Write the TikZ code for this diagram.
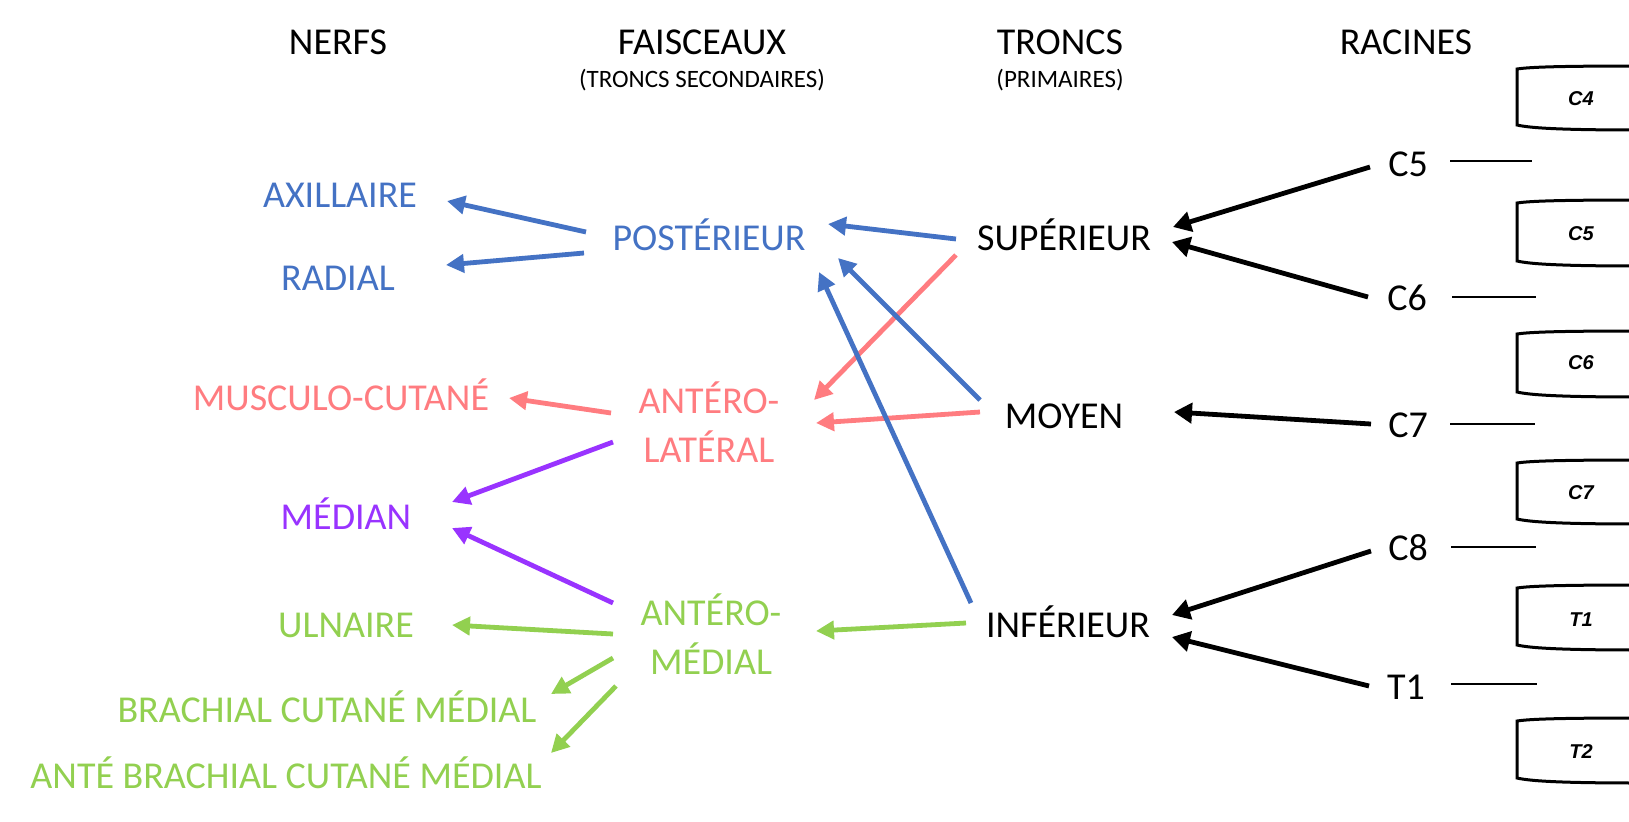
\documentclass[tikz,border=0pt]{standalone}
\usepackage{fontspec}
\setmainfont{Carlito}
\newfontfamily\vertfont{Liberation Sans}
\usetikzlibrary{arrows.meta,calc}
\definecolor{cblue}{RGB}{68,114,196}
\definecolor{cpink}{RGB}{255,124,128}
\definecolor{cpurple}{RGB}{153,51,255}
\definecolor{cgreen}{RGB}{146,208,80}
\tikzset{
 lbl/.style={font=\fontsize{19}{24.5}\selectfont, align=center, inner sep=0pt, text height=12.2pt, text depth=0pt},
 lbltwo/.style={font=\fontsize{19}{24.5}\selectfont, align=center, inner sep=0pt},
 sublbl/.style={font=\fontsize{12.5}{15}\selectfont, inner sep=0pt},
 arr/.style={line width=2.4pt, -{Triangle[length=9pt,width=9pt]}},
 barr/.style={line width=2.4pt, -{Triangle[length=9pt,width=10pt]}},
 rootline/.style={line width=1.35pt},
 vbox/.style={line width=1.5pt},
 vlbl/.style={font=\vertfont\bfseries\itshape\fontsize{10}{11}\selectfont, inner sep=0pt}
}
\begin{document}
\begin{tikzpicture}[x=0.5pt,y=-0.5pt]
\fill[white] (0,0) rectangle (1629,821);
\useasboundingbox (0,0) rectangle (1629,821);

% headers
\node[lbl] (nerfs) at (338,42) {NERFS};
\node[lbl] (fais) at (702,42) {FAISCEAUX};
\node[sublbl] (faissub) at (702,80) {(TRONCS SECONDAIRES)};
\node[lbl] (troncs) at (1060,42) {TRONCS};
\node[sublbl] (tronsub) at (1060,80) {(PRIMAIRES)};
\node[lbl] (racines) at (1406,42) {RACINES};

% nerves
\node[lbl,text=cblue] (axil) at (340,195) {AXILLAIRE};
\node[lbl,text=cblue] (radial) at (338,278) {RADIAL};
\node[lbl,text=cpink] (musc) at (341,398) {MUSCULO-CUTANÉ};
\node[lbl,text=cpurple] (median) at (346,517) {MÉDIAN};
\node[lbl,text=cgreen] (ulnaire) at (346,625) {ULNAIRE};
\node[lbl,text=cgreen] (bcm) at (327,710) {BRACHIAL CUTANÉ MÉDIAL};
\node[lbl,text=cgreen] (abcm) at (286,776) {ANTÉ BRACHIAL CUTANÉ MÉDIAL};

% cords
\node[lbl,text=cblue] (post) at (709,238) {POSTÉRIEUR};
\node[lbltwo,text=cpink] (antlat) at (709,422) {ANTÉRO-\\LATÉRAL};
\node[lbltwo,text=cgreen] (antmed) at (711,634) {ANTÉRO-\\MÉDIAL};

% trunks
\node[lbl] (sup) at (1064,238) {SUPÉRIEUR};
\node[lbl] (moy) at (1064,416) {MOYEN};
\node[lbl] (inf) at (1068,625) {INFÉRIEUR};

% roots
\node[lbl] (c5) at (1408,164) {C5};
\node[lbl] (c6) at (1407,298) {C6};
\node[lbl] (c7) at (1408,425) {C7};
\node[lbl] (c8) at (1408,548) {C8};
\node[lbl] (t1) at (1406,687) {T1};

\coordinate (e5) at (1532,161);
\coordinate (e6) at (1536,297);
\coordinate (e7) at (1535,424);
\coordinate (e8) at (1536,547);
\coordinate (et1) at (1537,684);
\draw[rootline] ($(c5)+(42,-3)$) -- (e5);
\draw[rootline] ($(c6)+(45,-1)$) -- (e6);
\draw[rootline] ($(c7)+(42,-1)$) -- (e7);
\draw[rootline] ($(c8)+(43,-1)$) -- (e8);
\draw[rootline] ($(t1)+(45,-3)$) -- (et1);

% vertebrae
\foreach \t/\b in {69/125, 203/261, 334/392, 463/519, 588/645, 721/778} {
  \draw[vbox] (1640,\t-3) .. controls (1560,\t-3) and (1530,\t-2) .. (1517,\t)
     -- (1517,\b) .. controls (1530,\b+3) and (1560,\b+5) .. (1640,\b+5);
}
\node[vlbl] (vc4) at (1581,99) {C4};
\node[vlbl] (vc5) at (1581,234) {C5};
\node[vlbl] (vc6) at (1581,363) {C6};
\node[vlbl] (vc7) at (1581,493) {C7};
\node[vlbl] (vt1) at (1581,620) {T1};
\node[vlbl] (vt2) at (1581,752) {T2};

% roots -> trunks
\draw[barr] ($(c5)+(-38,3)$) -- ($(sup)+(109,-11)$);
\draw[barr] ($(c6)+(-39,-1)$) -- ($(sup)+(108,4)$);
\draw[barr] ($(c7)+(-37,-1)$) -- ($(moy)+(110,-4)$);
\draw[barr] ($(c8)+(-37,3)$) -- ($(inf)+(104,-10)$);
\draw[barr] ($(t1)+(-37,-1)$) -- ($(inf)+(104,12)$);

% trunks -> cords
\draw[arr,cpink] ($(sup)+(-108,17)$) -- ($(antlat)+(105,-22)$);
\draw[arr,cblue] ($(sup)+(-108,1)$) -- ($(post)+(119,-14)$);
\draw[arr,cblue] ($(moy)+(-84,-16)$) -- ($(post)+(129,20)$);
\draw[arr,cpink] ($(moy)+(-84,-4)$) -- ($(antlat)+(107,1)$);
\draw[arr,cblue] ($(inf)+(-97,-22)$) -- ($(post)+(110,34)$);
\draw[arr,cgreen] ($(inf)+(-102,-2)$) -- ($(antmed)+(105,-3)$);

% cords -> nerves
\draw[arr,cblue] ($(post)+(-123,-6)$) -- ($(axil)+(107,6)$);
\draw[arr,cblue] ($(post)+(-125,15)$) -- ($(radial)+(108,-13)$);
\draw[arr,cpink] ($(antlat)+(-98,-9)$) -- ($(musc)+(168,0)$);
\draw[arr,cpurple] ($(antlat)+(-96,20)$) -- ($(median)+(106,-15)$);
\draw[arr,cpurple] ($(antmed)+(-98,-31)$) -- ($(median)+(106,11)$);
\draw[arr,cgreen] ($(antmed)+(-98,0)$) -- ($(ulnaire)+(106,0)$);
\draw[arr,cgreen] ($(antmed)+(-98,24)$) -- ($(bcm)+(224,-16)$);
\draw[arr,cgreen] ($(antmed)+(-95,52)$) -- ($(abcm)+(265,-23)$);
\end{tikzpicture}
\end{document}
